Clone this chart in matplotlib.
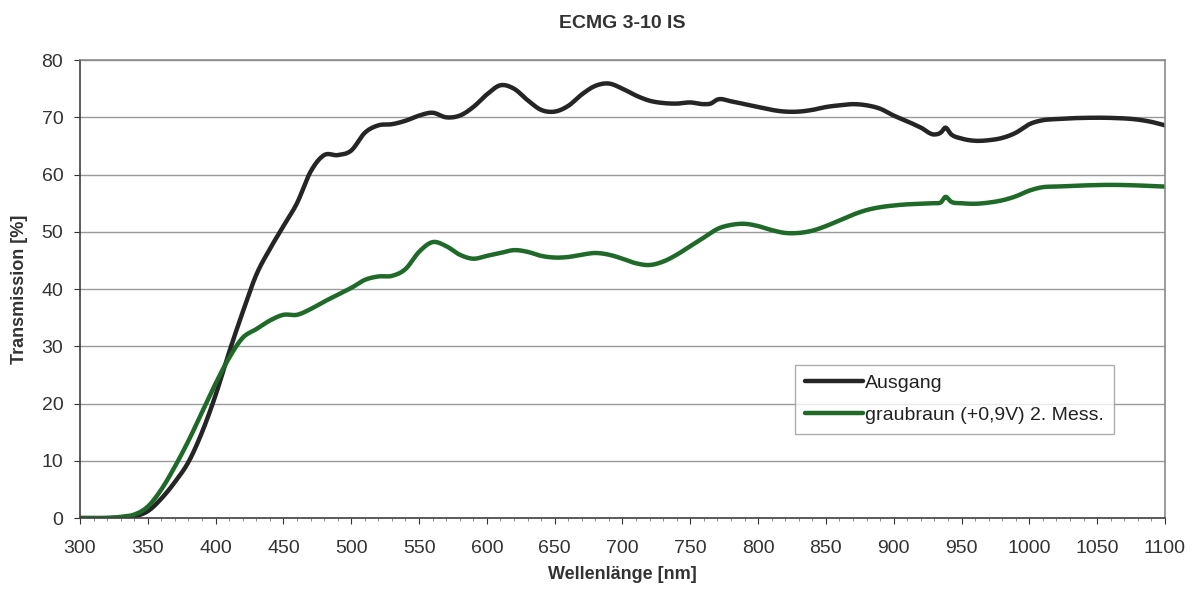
import numpy as np
import matplotlib.pyplot as plt
from matplotlib.ticker import MultipleLocator

# Wellenlänge in nm and transmission in % for both measurements
wavelength = [300, 320, 330, 340, 350, 360, 370, 380, 390, 400, 410, 420, 430, 440,
              450, 460, 470, 480, 490, 500, 510, 520, 530, 540, 550, 560, 570, 580,
              590, 600, 610, 620, 630, 640, 650, 660, 670, 680, 690, 700, 710, 720,
              730, 740, 750, 760, 765, 770, 780, 790, 800, 810, 820, 830, 840, 850,
              860, 870, 880, 890, 900, 910, 920, 930, 935, 938, 942, 950, 960, 970,
              980, 990, 1000, 1010, 1020, 1040, 1060, 1080, 1090, 1100]

ausgang = [0.0, 0.0, 0.1, 0.3, 1.2, 3.4, 6.3, 9.8, 15.0, 21.5, 29.0, 36.0, 42.5, 47.0,
           51.0, 55.0, 60.5, 63.4, 63.4, 64.2, 67.3, 68.6, 68.8, 69.4, 70.3, 70.8, 70.0, 70.3,
           71.8, 74.0, 75.6, 75.0, 73.0, 71.3, 71.0, 72.0, 74.0, 75.5, 75.9, 75.0, 73.8, 72.9,
           72.5, 72.4, 72.6, 72.3, 72.4, 73.1, 72.8, 72.3, 71.8, 71.3, 71.0, 71.0, 71.3, 71.8,
           72.1, 72.3, 72.1, 71.5, 70.3, 69.3, 68.2, 67.0, 67.4, 68.2, 67.1, 66.3, 65.9, 66.0,
           66.4, 67.3, 68.8, 69.5, 69.7, 69.9, 69.9, 69.6, 69.2, 68.6]

graubraun = [0.0, 0.0, 0.2, 0.6, 2.0, 5.0, 9.0, 13.5, 18.5, 23.5, 28.0, 31.5, 33.0, 34.5,
             35.5, 35.5, 36.5, 37.8, 39.0, 40.2, 41.6, 42.2, 42.3, 43.5, 46.5, 48.2, 47.5, 46.0,
             45.3, 45.8, 46.3, 46.8, 46.5, 45.8, 45.5, 45.6, 46.0, 46.3, 46.0, 45.3, 44.5, 44.2,
             44.8, 46.0, 47.5, 49.0, 49.8, 50.5, 51.2, 51.4, 51.0, 50.3, 49.8, 49.8, 50.2, 51.0,
             52.0, 53.0, 53.8, 54.3, 54.6, 54.8, 54.9, 55.0, 55.2, 56.1, 55.3, 55.0, 54.9, 55.1,
             55.5, 56.2, 57.2, 57.8, 57.9, 58.1, 58.2, 58.1, 58.0, 57.9]


def hermite_curve(x, y, x_new):
    """Cubic Hermite interpolation through the readings (slopes from np.gradient)."""
    x = np.asarray(x, dtype=float)
    y = np.asarray(y, dtype=float)
    m = np.gradient(y, x)
    idx = np.clip(np.searchsorted(x, x_new) - 1, 0, len(x) - 2)
    h = x[idx + 1] - x[idx]
    t = (x_new - x[idx]) / h
    h00 = 2 * t**3 - 3 * t**2 + 1
    h10 = t**3 - 2 * t**2 + t
    h01 = -2 * t**3 + 3 * t**2
    h11 = t**3 - t**2
    return h00 * y[idx] + h10 * h * m[idx] + h01 * y[idx + 1] + h11 * h * m[idx + 1]


wl_fine = np.arange(300, 1100.25, 0.5)
ausgang_fine = hermite_curve(wavelength, ausgang, wl_fine)
graubraun_fine = hermite_curve(wavelength, graubraun, wl_fine)

plt.rcParams['font.family'] = ['Liberation Sans', 'DejaVu Sans']

fig = plt.figure(figsize=(11.94, 5.89), dpi=100)
ax = fig.add_axes([0.067, 0.1205, 0.9087, 0.7775])

ax.plot(wl_fine, ausgang_fine, color='#252525', linewidth=3.2, label='Ausgang',
        solid_capstyle='round')
ax.plot(wl_fine, graubraun_fine, color='#1f6a28', linewidth=3.2,
        label='graubraun (+0,9V) 2. Mess.', solid_capstyle='round')

ax.set_xlim(300, 1100)
ax.set_ylim(0, 80)
ax.xaxis.set_major_locator(MultipleLocator(50))
ax.xaxis.set_minor_locator(MultipleLocator(10))
ax.yaxis.set_major_locator(MultipleLocator(10))

ax.grid(axis='y', color='#9a9a9a', linewidth=1.0)
ax.set_axisbelow(True)

for side in ['top', 'right']:
    ax.spines[side].set_color('#8a8a8a')
for side in ['left', 'bottom']:
    ax.spines[side].set_color('#404040')
for side in ax.spines:
    ax.spines[side].set_linewidth(1.2)

ax.tick_params(axis='both', which='major', labelsize=14, colors='#333333',
               length=4, direction='out')
ax.tick_params(axis='x', which='major', pad=12)
ax.tick_params(axis='x', which='minor', length=2, color='#777777')
ax.tick_params(axis='y', which='major', pad=8)

ax.set_title('ECMG 3-10 IS', fontsize=14, fontweight='bold', color='#333333', pad=23)
ax.set_xlabel('Wellenlänge [nm]', fontsize=13, fontweight='bold', color='#333333', labelpad=6)
ax.set_ylabel('Transmission [%]', fontsize=13, fontweight='bold', color='#333333', labelpad=10)

leg = ax.legend(loc='upper left', bbox_to_anchor=(0.659, 0.335), fontsize=14,
                frameon=True, fancybox=False, edgecolor='#999999', handlelength=3.0,
                handletextpad=0.1, borderpad=0.5, labelspacing=0.75, borderaxespad=0)
leg.get_frame().set_linewidth(1.0)
for text in leg.get_texts():
    text.set_color('#222222')

plt.savefig('out.png', dpi=100)
plt.close()
